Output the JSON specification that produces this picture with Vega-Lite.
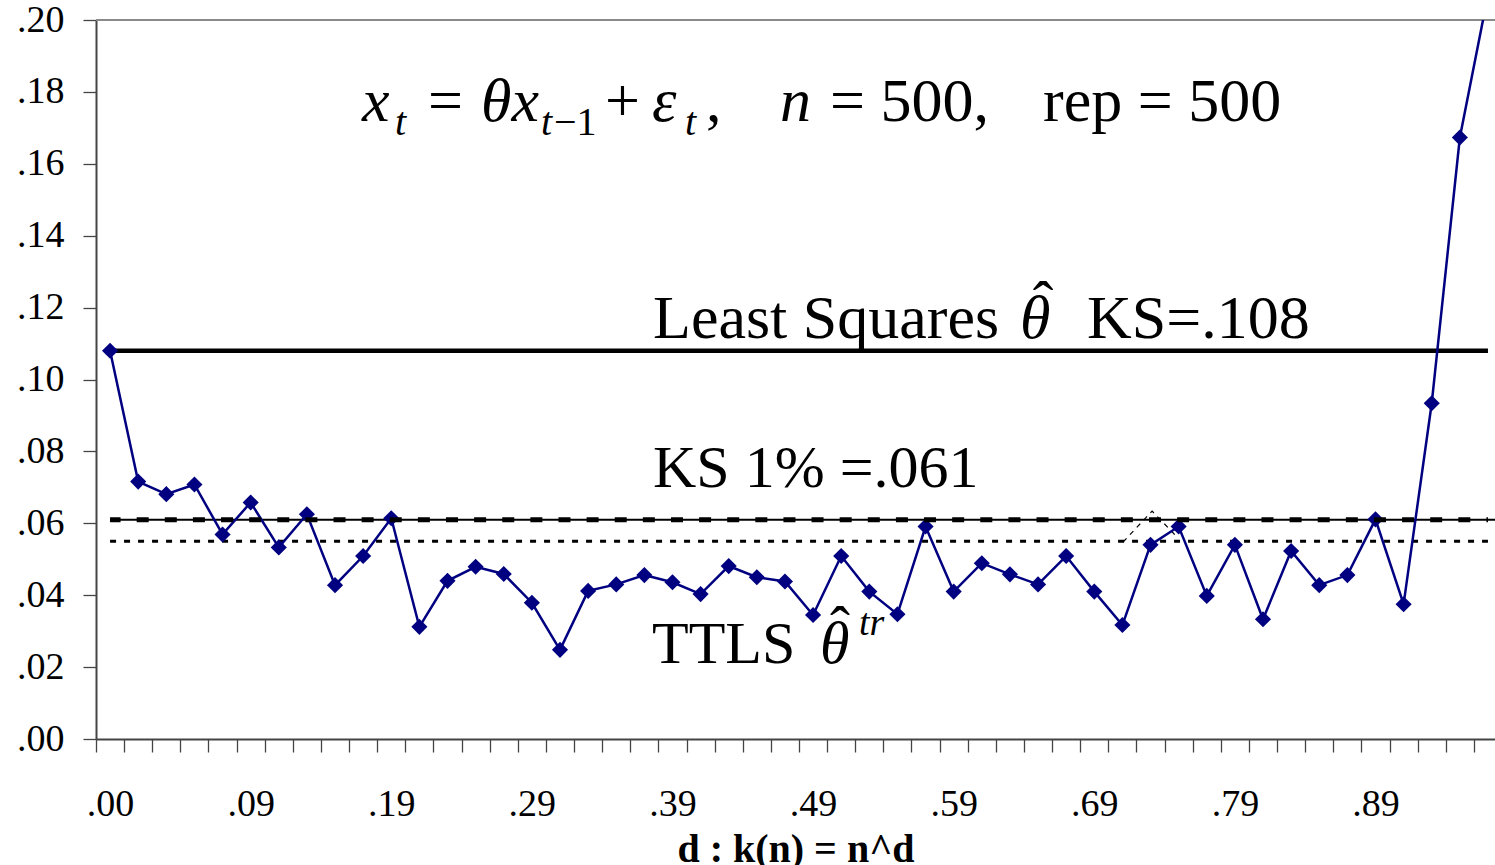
{
  "$schema": "https://vega.github.io/schema/vega-lite/v6.json",
  "width": 1399,
  "height": 719,
  "autosize": {"type": "none"},
  "padding": {"left": 96, "top": 20, "right": 0, "bottom": 126},
  "background": "white",
  "config": {
    "view": {"stroke": null},
    "font": "Liberation Serif",
    "text": {"font": "Liberation Serif", "color": "black", "align": "left", "baseline": "alphabetic"}
  },
  "resolve": {"axis": {"x": "independent"}},
  "layer": [
    {
      "data": {"values": [{}]},
      "mark": {"type": "rule", "color": "#8a8a8a", "strokeWidth": 2},
      "encoding": {"y": {"datum": 0.2}}
    },
    {
      "data": {"values": [{}]},
      "mark": {"type": "rule", "color": "black", "strokeWidth": 3, "strokeDash": [6, 8]},
      "encoding": {"x": {"datum": 0, "axis": null}, "x2": {"datum": 0.9702}, "y": {"datum": 0.055}}
    },
    {
      "data": {"values": [{}]},
      "mark": {"type": "rule", "color": "black", "strokeWidth": 4.5},
      "encoding": {"x": {"datum": 0, "axis": null}, "x2": {"datum": 0.9702}, "y": {"datum": 0.108}}
    },
    {
      "data": {"values": [{}]},
      "mark": {"type": "rule", "color": "black", "strokeWidth": 2},
      "encoding": {"x": {"datum": 0, "axis": null}, "x2": {"datum": 0.98}, "y": {"datum": 0.061}}
    },
    {
      "data": {"values": [
        {"d": 0.7133, "v": 0.0548}, {"d": 0.7337, "v": 0.0634}, {"d": 0.752, "v": 0.0559}
      ]},
      "mark": {"type": "line", "color": "black", "strokeWidth": 1.2, "strokeDash": [5, 5]},
      "encoding": {
        "x": {"field": "d", "type": "quantitative", "axis": null},
        "y": {"field": "v", "type": "quantitative"}
      }
    },
    {
      "data": {"name": "ks", "values": [
        {"d": 0, "ks": 0.108}, {"d": 0.0198, "ks": 0.0716}, {"d": 0.0396, "ks": 0.0681}, {"d": 0.0594, "ks": 0.0708},
        {"d": 0.0792, "ks": 0.0569}, {"d": 0.099, "ks": 0.0658}, {"d": 0.1188, "ks": 0.0533}, {"d": 0.1386, "ks": 0.0625},
        {"d": 0.1584, "ks": 0.0428}, {"d": 0.1782, "ks": 0.0509}, {"d": 0.198, "ks": 0.0614}, {"d": 0.2178, "ks": 0.0312},
        {"d": 0.2376, "ks": 0.044}, {"d": 0.2574, "ks": 0.0479}, {"d": 0.2772, "ks": 0.0459}, {"d": 0.297, "ks": 0.0379},
        {"d": 0.3168, "ks": 0.0248}, {"d": 0.3366, "ks": 0.0412}, {"d": 0.3564, "ks": 0.043}, {"d": 0.3762, "ks": 0.0456},
        {"d": 0.396, "ks": 0.0436}, {"d": 0.4158, "ks": 0.0403}, {"d": 0.4356, "ks": 0.0481}, {"d": 0.4554, "ks": 0.045},
        {"d": 0.4752, "ks": 0.0438}, {"d": 0.495, "ks": 0.0345}, {"d": 0.5148, "ks": 0.0509}, {"d": 0.5346, "ks": 0.041},
        {"d": 0.5544, "ks": 0.0347}, {"d": 0.5742, "ks": 0.0591}, {"d": 0.594, "ks": 0.041}, {"d": 0.6138, "ks": 0.0489},
        {"d": 0.6336, "ks": 0.0458}, {"d": 0.6534, "ks": 0.043}, {"d": 0.6732, "ks": 0.0509}, {"d": 0.693, "ks": 0.041},
        {"d": 0.7128, "ks": 0.0317}, {"d": 0.7326, "ks": 0.054}, {"d": 0.7524, "ks": 0.0591}, {"d": 0.7722, "ks": 0.0398},
        {"d": 0.792, "ks": 0.054}, {"d": 0.8118, "ks": 0.0333}, {"d": 0.8316, "ks": 0.0523}, {"d": 0.8514, "ks": 0.0428},
        {"d": 0.8712, "ks": 0.0456}, {"d": 0.891, "ks": 0.0611}, {"d": 0.9108, "ks": 0.0375}, {"d": 0.9306, "ks": 0.0934},
        {"d": 0.9504, "ks": 0.1673}, {"d": 0.9702, "ks": 0.207}
      ]},
      "mark": {"type": "line", "color": "#000080", "strokeWidth": 2.5, "clip": true},
      "encoding": {
        "x": {
          "field": "d", "type": "quantitative",
          "scale": {"domain": [-0.0099, 0.97515], "nice": false, "zero": false},
          "axis": {
            "orient": "bottom",
            "title": null,
            "values": [-0.0099, 0.0099, 0.0297, 0.0495, 0.0693, 0.0891, 0.1089, 0.1287, 0.1485, 0.1683, 0.1881, 0.2079, 0.2277, 0.2475, 0.2673, 0.2871, 0.3069, 0.3267, 0.3465, 0.3663, 0.3861, 0.4059, 0.4257, 0.4455, 0.4653, 0.4851, 0.5049, 0.5247, 0.5445, 0.5643, 0.5841, 0.6039, 0.6237, 0.6435, 0.6633, 0.6831, 0.7029, 0.7227, 0.7425, 0.7623, 0.7821, 0.8019, 0.8217, 0.8415, 0.8613, 0.8811, 0.9009, 0.9207, 0.9405, 0.9603],
            "labels": false,
            "grid": false, "domainColor": "#444444", "domainWidth": 2,
            "tickColor": "#444444", "tickWidth": 1.3, "tickSize": 13
          }
        },
        "y": {
          "field": "ks", "type": "quantitative",
          "scale": {"domain": [0, 0.2], "nice": false, "zero": false},
          "axis": {
            "title": null,
            "values": [0, 0.02, 0.04, 0.06, 0.08, 0.1, 0.12, 0.14, 0.16, 0.18, 0.2],
            "labelExpr": "replace(format(datum.value, '.2f'), '0.', '.')",
            "labelFlush": false, "labelOverlap": false, "labelBound": false,
            "labelFont": "Liberation Serif", "labelFontSize": 38, "labelColor": "black", "labelPadding": 19,
            "grid": false, "domainColor": "#444444", "domainWidth": 2,
            "tickColor": "#444444", "tickWidth": 1.3, "tickSize": 13
          }
        }
      }
    },
    {
      "data": {"name": "ks"},
      "mark": {"type": "point", "shape": "diamond", "size": 260, "filled": true, "opacity": 1, "color": "#000080", "clip": true},
      "encoding": {
        "x": {
          "field": "d", "type": "quantitative",
          "axis": {
            "orient": "bottom",
            "title": "d : k(n) = n^d",
            "titleFont": "Liberation Serif", "titleFontSize": 40, "titleFontWeight": "bold", "titleColor": "black",
            "titlePadding": 6,
            "values": [0, 0.099, 0.198, 0.297, 0.396, 0.495, 0.594, 0.693, 0.792, 0.891],
            "labelExpr": "replace(format(floor(datum.value * 100 + 0.000001) / 100, '.2f'), '0.', '.')",
            "labelFlush": false, "labelOverlap": false, "labelBound": false,
            "labelFont": "Liberation Serif", "labelFontSize": 38, "labelColor": "black", "labelPadding": 33,
            "grid": false, "domain": false,
            "ticks": true, "tickOpacity": 0, "tickSize": 13
          }
        },
        "y": {"field": "ks", "type": "quantitative"}
      }
    },
    {
      "data": {"values": [{}]},
      "mark": {"type": "rule", "color": "black", "strokeWidth": 5, "strokeDash": [12, 16.12], "strokeDashOffset": 1.5},
      "encoding": {"x": {"datum": 0, "axis": null}, "x2": {"datum": 0.9702}, "y": {"datum": 0.061}}
    },
    {"data": {"values": [{}]}, "mark": {"type": "text", "text": "x", "fontStyle": "italic", "fontSize": 62}, "encoding": {"x": {"datum": 0.1774, "axis": null}, "y": {"datum": 0.1719}}},
    {"data": {"values": [{}]}, "mark": {"type": "text", "text": "t", "fontStyle": "italic", "fontSize": 40}, "encoding": {"x": {"datum": 0.2006, "axis": null}, "y": {"datum": 0.168}}},
    {"data": {"values": [{}]}, "mark": {"type": "text", "text": "=", "fontSize": 62}, "encoding": {"x": {"datum": 0.2239, "axis": null}, "y": {"datum": 0.1719}}},
    {"data": {"values": [{}]}, "mark": {"type": "text", "text": "θx", "fontStyle": "italic", "fontSize": 62}, "encoding": {"x": {"datum": 0.2612, "axis": null}, "y": {"datum": 0.1719}}},
    {"data": {"values": [{}]}, "mark": {"type": "text", "text": "t", "fontStyle": "italic", "fontSize": 40}, "encoding": {"x": {"datum": 0.3034, "axis": null}, "y": {"datum": 0.168}}},
    {"data": {"values": [{}]}, "mark": {"type": "text", "text": "−1", "fontSize": 40}, "encoding": {"x": {"datum": 0.3126, "axis": null}, "y": {"datum": 0.168}}},
    {"data": {"values": [{}]}, "mark": {"type": "text", "text": "+", "fontSize": 62}, "encoding": {"x": {"datum": 0.3485, "axis": null}, "y": {"datum": 0.1719}}},
    {"data": {"values": [{}]}, "mark": {"type": "text", "text": "ε", "fontStyle": "italic", "fontSize": 62}, "encoding": {"x": {"datum": 0.3816, "axis": null}, "y": {"datum": 0.1719}}},
    {"data": {"values": [{}]}, "mark": {"type": "text", "text": "t", "fontStyle": "italic", "fontSize": 40}, "encoding": {"x": {"datum": 0.4048, "axis": null}, "y": {"datum": 0.168}}},
    {"data": {"values": [{}]}, "mark": {"type": "text", "text": ",", "fontSize": 62}, "encoding": {"x": {"datum": 0.4196, "axis": null}, "y": {"datum": 0.1719}}},
    {"data": {"values": [{}]}, "mark": {"type": "text", "text": "n", "fontStyle": "italic", "fontSize": 62}, "encoding": {"x": {"datum": 0.4717, "axis": null}, "y": {"datum": 0.1719}}},
    {"data": {"values": [{}]}, "mark": {"type": "text", "text": "= 500,", "fontSize": 62}, "encoding": {"x": {"datum": 0.5069, "axis": null}, "y": {"datum": 0.1719}}},
    {"data": {"values": [{}]}, "mark": {"type": "text", "text": "rep = 500", "fontSize": 62}, "encoding": {"x": {"datum": 0.6569, "axis": null}, "y": {"datum": 0.1719}}},
    {"data": {"values": [{}]}, "mark": {"type": "text", "text": "Least Squares", "fontSize": 62}, "encoding": {"x": {"datum": 0.3823, "axis": null}, "y": {"datum": 0.1115}}},
    {"data": {"values": [{}]}, "mark": {"type": "text", "text": "θ", "fontStyle": "italic", "fontSize": 62}, "encoding": {"x": {"datum": 0.6407, "axis": null}, "y": {"datum": 0.1115}}},
    {"data": {"values": [{}]}, "mark": {"type": "text", "text": "ˆ", "fontSize": 62, "align": "center"}, "encoding": {"x": {"datum": 0.6569, "axis": null}, "y": {"datum": 0.1155}}},
    {"data": {"values": [{}]}, "mark": {"type": "text", "text": "KS=.108", "fontSize": 62}, "encoding": {"x": {"datum": 0.6879, "axis": null}, "y": {"datum": 0.1115}}},
    {"data": {"values": [{}]}, "mark": {"type": "text", "text": "KS 1% =.061", "fontSize": 60}, "encoding": {"x": {"datum": 0.3823, "axis": null}, "y": {"datum": 0.0701}}},
    {"data": {"values": [{}]}, "mark": {"type": "text", "text": "TTLS", "fontSize": 60}, "encoding": {"x": {"datum": 0.3816, "axis": null}, "y": {"datum": 0.02114}}},
    {"data": {"values": [{}]}, "mark": {"type": "text", "text": "θ", "fontStyle": "italic", "fontSize": 60}, "encoding": {"x": {"datum": 0.4999, "axis": null}, "y": {"datum": 0.02114}}},
    {"data": {"values": [{}]}, "mark": {"type": "text", "text": "ˆ", "fontSize": 60, "align": "center"}, "encoding": {"x": {"datum": 0.514, "axis": null}, "y": {"datum": 0.0256}}},
    {"data": {"values": [{}]}, "mark": {"type": "text", "text": "tr", "fontStyle": "italic", "fontSize": 38}, "encoding": {"x": {"datum": 0.5273, "axis": null}, "y": {"datum": 0.02893}}}
  ]
}
